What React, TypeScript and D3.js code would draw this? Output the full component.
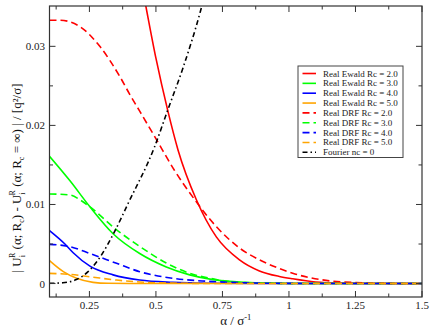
import React from 'react';
import {scaleLinear,line,curveMonotoneX,range} from 'd3';

// alpha samples and values, one pair of arrays per curve
const ewald2A=[0.44,0.462,0.50,0.545,0.583,0.652,0.727,0.814,0.889,0.964,1.014,1.10,1.2,1.3,1.5]
const ewald2V=[0.0390,0.0351,0.0285,0.0218,0.0169,0.0106,0.0059,0.0030,0.0016,0.0009,0.0006,0.0002,0.00005,0.00001,0]
const ewald3A=[0.1,0.177,0.252,0.339,0.439,0.539,0.627,0.714,0.814,0.9,1.0,1.5]
const ewald3V=[0.0161,0.0130,0.0097,0.0063,0.0038,0.0021,0.0011,0.0005,0.0002,0.00008,0.00002,0]
const ewald4A=[0.1,0.158,0.189,0.252,0.339,0.439,0.563,0.7,0.9,1.5]
const ewald4V=[0.0067,0.0050,0.0039,0.0022,0.0011,0.00044,0.00015,0.00004,0.00001,0]
const ewald5A=[0.1,0.152,0.202,0.264,0.32,0.5,1.5]
const ewald5V=[0.00289,0.0015,0.00066,0.00015,0.00003,0,0]

const drf2A=[0.1,0.139,0.214,0.289,0.364,0.402,0.439,0.502,0.570,0.646,0.727,0.814,0.889,0.964,1.014,1.139,1.25,1.35,1.5]
const drf2V=[0.0333,0.0333,0.0325,0.0300,0.0262,0.0239,0.0218,0.0182,0.0143,0.0106,0.0072,0.0045,0.0030,0.0019,0.0013,0.0004,0.00012,0.00003,0]
const drf3A=[0.1,0.177,0.214,0.252,0.352,0.439,0.539,0.627,0.714,0.789,0.9,1.0,1.5]
const drf3V=[0.01133,0.0112,0.0106,0.0097,0.0068,0.0047,0.0026,0.0013,0.0006,0.0002,0.00006,0.00001,0]
const drf4A=[0.1,0.177,0.252,0.352,0.439,0.564,0.689,0.814,1.0,1.5]
const drf4V=[0.00496,0.00466,0.0038,0.00256,0.0015,0.00066,0.0003,0.00012,0.00002,0]
const drf5A=[0.1,0.177,0.252,0.352,0.439,0.564,0.75,1.5]
const drf5V=[0.00129,0.00116,0.00086,0.00044,0.0002,0.00005,0.00001,0]

const fourierA=[0.1,0.15,0.196,0.245,0.283,0.345,0.395,0.495,0.545,0.601,0.667,0.675]
const fourierV=[0.00003,0.0001,0.00044,0.0015,0.003,0.0066,0.0101,0.0173,0.022,0.0272,0.0344,0.0354]

const xMajor=[0.25,0.5,0.75,1,1.25,1.5]
const xLabels=["0.25","0.5","0.75","1","1.25","1.5"]
const yMajor=[0,0.01,0.02,0.03]
const yLabels=["0","0.01","0.02","0.03"]

const seriesNames=["Real Ewald Rc = 2.0","Real Ewald Rc = 3.0","Real Ewald Rc = 4.0","Real Ewald Rc = 5.0",
  "Real DRF Rc = 2.0","Real DRF Rc = 3.0","Real DRF Rc = 4.0","Real DRF Rc = 5.0","Fourier nc = 0"]
const seriesA=[ewald2A,ewald3A,ewald4A,ewald5A,drf2A,drf3A,drf4A,drf5A,fourierA]
const seriesV=[ewald2V,ewald3V,ewald4V,ewald5V,drf2V,drf3V,drf4V,drf5V,fourierV]
const colors=["#ff0000","#00ff00","#0000ff","#ffa500","#ff0000","#00ff00","#0000ff","#ffa500","#000000"]
const dashes=["","","","","7,4","7,4","7,4","7,4","5,3,1.5,3"]

const W=430,H=332
const mL=49.5,mR=8,mT=6,mB=35
const font="Liberation Serif, DejaVu Serif, serif"

export default function App(){
  const x=scaleLinear().domain([0.1,1.5]).range([mL,W-mR])
  const y=scaleLinear().domain([-0.0017,0.0351]).range([H-mB,mT])
  const ln=line<[number,number]>().x(d=>x(d[0])).y(d=>y(d[1])).curve(curveMonotoneX)

  const xMinor=range(0.125,1.5,0.25)
  const yMinor=[0.005,0.015,0.025]
  const x0=x.range()[0],x1=x.range()[1],y0=y.range()[0],y1=y.range()[1]
  const ax="#333"

  const legX=298,legY=66,legRow=9.85

  return (
    <svg width={W} height={H} style={{position:"absolute",left:0,top:0,background:"#fff",fontFamily:font}}>
      <defs>
        <clipPath id="plotClip"><rect x={x0} y={y1} width={x1-x0} height={y0-y1}/></clipPath>
      </defs>
      <g clipPath="url(#plotClip)">
        {seriesA.map((a,i)=>(
          <path key={i} d={ln(a.map((v,k)=>[v,seriesV[i][k]]) as [number,number][])||""}
            fill="none" stroke={colors[i]} strokeWidth={1.6} strokeDasharray={dashes[i]||undefined}/>
        ))}
      </g>
      {/* frame */}
      <rect x={x0} y={y1} width={x1-x0} height={y0-y1} fill="none" stroke={ax} strokeWidth={1.2}/>
      {/* ticks, inward on all four sides */}
      {xMajor.map(t=>(
        <g key={"xM"+t}>
          <line x1={x(t)} x2={x(t)} y1={y0} y2={y0-6} stroke={ax}/>
          <line x1={x(t)} x2={x(t)} y1={y1} y2={y1+6} stroke={ax}/>
        </g>
      ))}
      {xMinor.map(t=>(
        <g key={"xm"+t}>
          <line x1={x(t)} x2={x(t)} y1={y0} y2={y0-3.5} stroke={ax}/>
          <line x1={x(t)} x2={x(t)} y1={y1} y2={y1+3.5} stroke={ax}/>
        </g>
      ))}
      {yMajor.map(t=>(
        <g key={"yM"+t}>
          <line x1={x0} x2={x0+6} y1={y(t)} y2={y(t)} stroke={ax}/>
          <line x1={x1} x2={x1-6} y1={y(t)} y2={y(t)} stroke={ax}/>
        </g>
      ))}
      {yMinor.map(t=>(
        <g key={"ym"+t}>
          <line x1={x0} x2={x0+3.5} y1={y(t)} y2={y(t)} stroke={ax}/>
          <line x1={x1} x2={x1-3.5} y1={y(t)} y2={y(t)} stroke={ax}/>
        </g>
      ))}
      {xMajor.map((t,i)=>(
        <text key={"xl"+t} x={x(t)} y={309} textAnchor="middle" fontSize={11} fill="#222">{xLabels[i]}</text>
      ))}
      {yMajor.map((t,i)=>(
        <text key={"yl"+t} x={45} y={y(t)+4} textAnchor="end" fontSize={11} fill="#222">{yLabels[i]}</text>
      ))}
      {/* axis titles */}
      <text x={(x0+x1)/2} y={325} textAnchor="middle" fontSize={13} fill="#111">
        α / σ<tspan dy={-5} fontSize={8.5}>-1</tspan>
      </text>
      <text transform="translate(21,178) rotate(-90)" textAnchor="middle" fontSize={13} fill="#111">
        | U<tspan dy={4} fontSize={8}>i</tspan><tspan dx={-3} dy={-10} fontSize={8}>R</tspan>
        <tspan dy={6}> (α; R</tspan><tspan dy={3} fontSize={8}>c</tspan><tspan dy={-3}>) - U</tspan>
        <tspan dy={4} fontSize={8}>i</tspan><tspan dx={-3} dy={-10} fontSize={8}>R</tspan>
        <tspan dy={6}> (α; R</tspan><tspan dy={3} fontSize={8}>c</tspan><tspan dy={-3}> = ∞) | / [q²/σ]</tspan>
      </text>
      {/* legend */}
      <rect x={legX} y={legY} width={105} height={91.5} fill="#fff" stroke="#444" strokeWidth={1}/>
      {seriesNames.map((n,i)=>(
        <g key={n} transform={`translate(0,${legY+7.5+i*legRow})`}>
          <line x1={legX+4.5} x2={legX+18} y1={0} y2={0} stroke={colors[i]} strokeWidth={1.6}
            strokeDasharray={dashes[i]||undefined}/>
          <text x={legX+25} y={3} fontSize={9} fill="#222">{n}</text>
        </g>
      ))}
    </svg>
  )
}
